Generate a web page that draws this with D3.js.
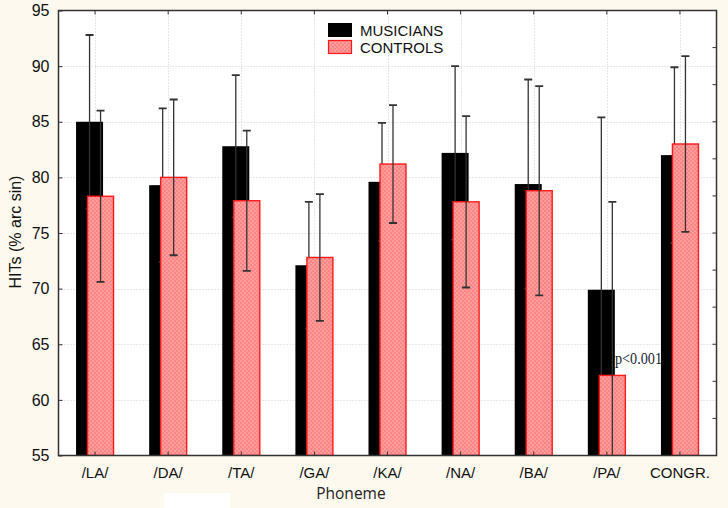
<!DOCTYPE html>
<html><head><meta charset="utf-8">
<script src="https://cdn.jsdelivr.net/npm/d3@7/dist/d3.min.js"></script>
<style>body{margin:0;background:#fdf9ee;}svg{display:block;}</style>
</head><body>
<svg id="c" width="728" height="508"></svg>
<script>
const categories = ["/LA/","/DA/","/TA/","/GA/","/KA/","/NA/","/BA/","/PA/","CONGR."];
const musicians = [85.0,79.3,82.8,72.1,79.6,82.2,79.4,69.9,82.0];
const musiciansErr = [7.8,6.9,6.4,5.7,5.3,7.8,9.4,15.5,7.9];
const controls = [78.3,80.0,77.9,72.8,81.2,77.8,78.8,62.2,83.0];
const controlsErr = [7.7,7.0,6.3,5.7,5.3,7.7,9.4,15.6,7.9];
const yTicks = [55,60,65,70,75,80,85,90,95];
const seriesNames = ["MUSICIANS","CONTROLS"];

const svg = d3.select("#c");
const L=58.5, R=716.5, T=10.5, B=455.5;
svg.append("rect").attr("width",728).attr("height",508).attr("fill","#fdf9ee");
const defs = svg.append("defs");
const pat = defs.append("pattern").attr("id","chk").attr("width",4).attr("height",4).attr("patternUnits","userSpaceOnUse");
pat.append("rect").attr("width",4).attr("height",4).attr("fill","#ff8585");
pat.append("rect").attr("width",2).attr("height",2).attr("fill","#ff9c9c");
pat.append("rect").attr("x",2).attr("y",2).attr("width",2).attr("height",2).attr("fill","#ff9c9c");
const clip = defs.append("clipPath").attr("id","pc");
clip.append("rect").attr("x",L).attr("y",T).attr("width",R-L).attr("height",B-T);

svg.append("rect").attr("x",L).attr("y",T).attr("width",R-L).attr("height",B-T).attr("fill","#fff");

const x = d3.scaleBand().domain(categories).range([L,R]).padding(0);
const y = d3.scaleLinear().domain([55,95]).range([B,T]);
const bw = 27, off = 5.5;

// grid
const g = svg.append("g");
g.selectAll(".hg").data(yTicks.slice(1,-1)).join("line")
 .attr("x1",L).attr("x2",R).attr("y1",d=>Math.round(y(d))+0.5).attr("y2",d=>Math.round(y(d))+0.5)
 .attr("stroke","#cfcfcf").attr("stroke-dasharray","1,2");
g.selectAll(".vg").data(categories).join("line")
 .attr("x1",d=>Math.round(x(d)+x.bandwidth()/2)+0.5).attr("x2",d=>Math.round(x(d)+x.bandwidth()/2)+0.5)
 .attr("y1",T).attr("y2",B).attr("stroke","#cfcfcf").attr("stroke-dasharray","1,2");

const plot = svg.append("g").attr("clip-path","url(#pc)");
const cx = d=>x(d)+x.bandwidth()/2;

function errBars(vals, errs, dx){
  const eg = plot.append("g").attr("stroke","#333").attr("stroke-width",1.3);
  categories.forEach((c,i)=>{
    const xc = cx(c)+dx, lo=y(vals[i]-errs[i]), hi=y(vals[i]+errs[i]);
    eg.append("line").attr("x1",xc).attr("x2",xc).attr("y1",lo).attr("y2",hi);
    eg.append("line").attr("x1",xc-4).attr("x2",xc+4).attr("y1",hi).attr("y2",hi).attr("stroke-width",1.8);
    eg.append("line").attr("x1",xc-4).attr("x2",xc+4).attr("y1",lo).attr("y2",lo).attr("stroke-width",1.8);
  });
}

plot.selectAll(".mb").data(musicians).join("rect")
 .attr("x",(d,i)=>cx(categories[i])-off-bw/2).attr("width",bw)
 .attr("y",d=>y(d)).attr("height",d=>B-y(d)).attr("fill","#000");
errBars(musicians, musiciansErr, -off);
plot.selectAll(".cb").data(controls).join("rect")
 .attr("x",(d,i)=>cx(categories[i])+off-bw/2+0.5).attr("width",bw-1)
 .attr("y",d=>y(d)).attr("height",d=>B-y(d)).attr("fill","url(#chk)").attr("stroke","#ff1a1a").attr("stroke-width",1.4);
errBars(controls, controlsErr, off);

// frame
svg.append("rect").attr("x",L).attr("y",T).attr("width",R-L).attr("height",B-T)
 .attr("fill","none").attr("stroke","#333").attr("stroke-width",1.5);

// left axis
const ya = svg.append("g").attr("transform",`translate(${L},0)`)
 .call(d3.axisLeft(y).tickValues(yTicks).tickSize(-4).tickPadding(9));
ya.select(".domain").remove();
ya.selectAll("line").attr("stroke","#333");
ya.selectAll("text").attr("font-family","Liberation Sans, Arial").attr("font-size",16).attr("fill","#111");

// right axis ticks
const rTicks = d3.range(1,12).map(i=>55+i*40/12);
svg.append("g").selectAll("line").data(rTicks).join("line")
 .attr("x1",R).attr("x2",R-4).attr("y1",d=>y(d)).attr("y2",d=>y(d)).attr("stroke","#333");

// bottom / top ticks
svg.append("g").selectAll("line").data(categories).join("line")
 .attr("x1",d=>cx(d)).attr("x2",d=>cx(d)).attr("y1",B).attr("y2",B-4).attr("stroke","#333");
svg.append("g").selectAll("line").data(categories).join("line")
 .attr("x1",d=>cx(d)).attr("x2",d=>cx(d)).attr("y1",T).attr("y2",T+4).attr("stroke","#333");

svg.append("g").selectAll("text").data(categories).join("text")
 .attr("x",d=>cx(d)).attr("y",478).attr("text-anchor","middle")
 .attr("font-family","Liberation Sans, Arial").attr("font-size",15).attr("fill","#111").text(d=>d);

svg.append("text").attr("x",cx(categories[3])+x.bandwidth()/2).attr("y",499).attr("text-anchor","middle")
 .attr("font-family","Open Sans, DejaVu Sans").attr("font-size",15.5).attr("fill","#222").text("Phoneme");

svg.append("text").attr("transform","translate(21,232) rotate(-90)").attr("text-anchor","middle")
 .attr("font-family","Liberation Sans, Arial").attr("font-size",16).attr("fill","#111").text("HITs (% arc sin)");

// legend
const lg = svg.append("g");
lg.append("rect").attr("x",328).attr("y",23).attr("width",24).attr("height",14).attr("fill","#000");
lg.append("rect").attr("x",328.5).attr("y",40.5).attr("width",23).attr("height",13).attr("fill","url(#chk)").attr("stroke","#ff1a1a").attr("stroke-width",1.2);
lg.selectAll("text").data(seriesNames).join("text")
 .attr("x",360).attr("y",(d,i)=>36+i*17).attr("font-family","Liberation Sans, Arial").attr("font-size",15).attr("fill","#111").text(d=>d);

// annotation
svg.append("text").attr("x",615).attr("y",364).attr("font-family","Liberation Serif, Times New Roman").attr("font-size",16)
 .attr("fill","#1a1f33").attr("textLength",47).attr("lengthAdjust","spacingAndGlyphs").text("p<0.001");

// white artifact
svg.append("rect").attr("x",164).attr("y",493).attr("width",66).attr("height",15).attr("fill","#fff");
</script>
</body></html>
